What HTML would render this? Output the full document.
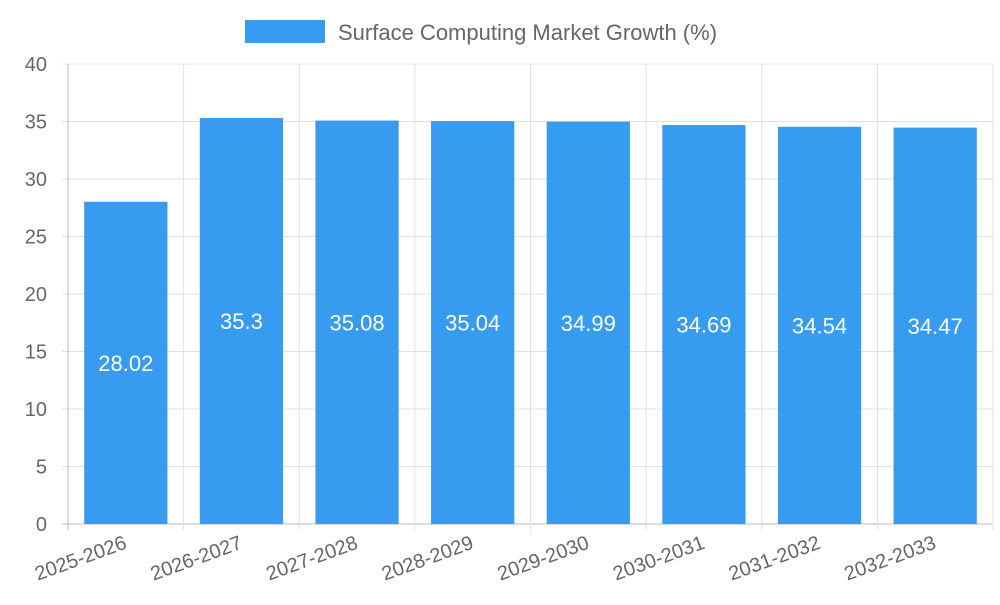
<!DOCTYPE html>
<html><head><meta charset="utf-8"><style>
body{margin:0;background:#fff;}
svg text{font-family:"Liberation Sans",sans-serif;}
</style></head><body>
<svg width="1000" height="600" xmlns="http://www.w3.org/2000/svg">
<g id="legend">
<rect x="245" y="20" width="80" height="23" fill="#379bf0"/>
<text x="338" y="40" font-size="22" fill="#666">Surface Computing Market Growth (%)</text>
</g>
<g id="grid"></g><g id="bars"></g><g id="labels"></g>
</svg>
<script>
const categories=["2025-2026","2026-2027","2027-2028","2028-2029","2029-2030","2030-2031","2031-2032","2032-2033"];
const values=[28.02,35.3,35.08,35.04,34.99,34.69,34.54,34.47];
const yTicks=[0,5,10,15,20,25,30,35,40];
const NS="http://www.w3.org/2000/svg";
const L=68,R=993,T=64,B=524,yMax=40;
const bw=(R-L)/categories.length;
const y=v=>B-(v/yMax)*(B-T);
const x=i=>L+i*bw;
function mk(tag,attrs,parent,txt){const e=document.createElementNS(NS,tag);for(const k in attrs)e.setAttribute(k,attrs[k]);if(txt!==undefined)e.textContent=txt;document.getElementById(parent).appendChild(e);return e;}
yTicks.forEach(t=>{
 const g=mk('line',{x1:L-6,x2:R,y1:y(t),y2:y(t),stroke:t===0?'#bbb':'#e0e0e0','stroke-width':1},'grid');
 
 
 const tx=mk('text',{x:47,y:y(t)+7,'text-anchor':'end','font-size':20,fill:'#666'},'grid',String(t));
 
 
});
for(let i=0;i<=categories.length;i++){
 const g=mk('line',{x1:x(i),x2:x(i),y1:T,y2:B+6,stroke:i===0?'#bbb':'#e0e0e0','stroke-width':1},'grid');
 
 
}
categories.forEach((c,i)=>{
 const cx=x(i)+bw/2,w=bw*0.72;
 const r=mk('rect',{x:cx-w/2,y:y(values[i]),width:w,height:B-y(values[i]),fill:'#379bf0'},'bars');
 
 
 const v=mk('text',{x:cx,y:(y(values[i])+B)/2+8,'text-anchor':'middle','font-size':22,fill:'#fff'},'labels',String(values[i]));
 
 
 const t=mk('text',{x:cx+2,y:B+24,'text-anchor':'end','font-size':20,fill:'#666',transform:`rotate(-20 ${cx+2} ${B+24})`},'labels',c);
 
 
});
</script>
</body></html>
